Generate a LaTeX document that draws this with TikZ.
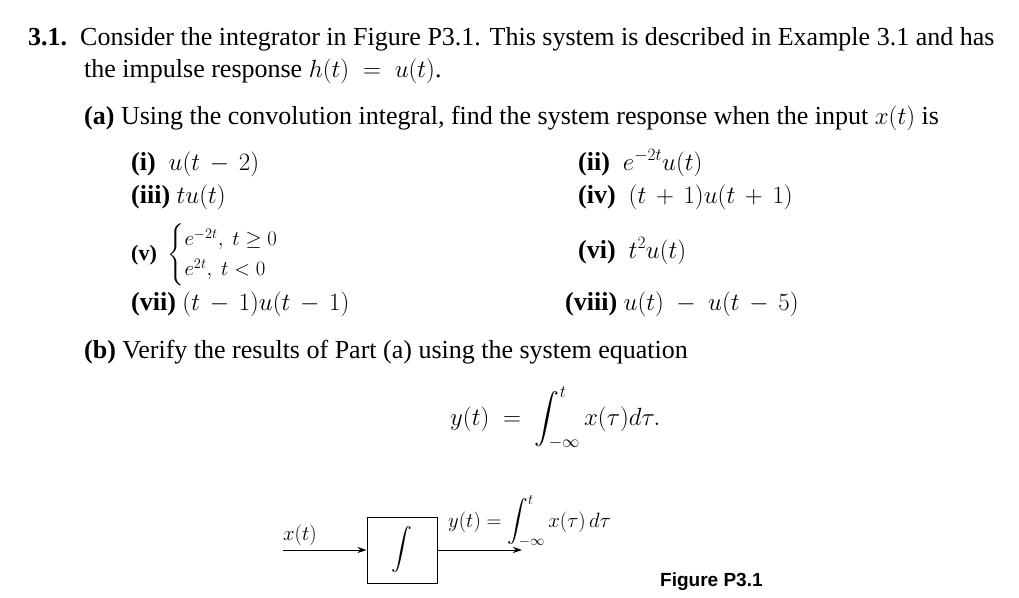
\documentclass[tikz,border=0pt]{standalone}
\usepackage{amsmath}
\usepackage{fontspec}
\setmainfont{Liberation Serif}
\newfontfamily\figfont{Liberation Sans}
\usetikzlibrary{arrows.meta}
\begin{document}
\begin{tikzpicture}[x=1pt,y=-1pt,
  txt/.style={anchor=base west,inner sep=0pt,font=\fontsize{26}{30}\selectfont},
  small/.style={anchor=base west,inner sep=0pt,font=\fontsize{20}{24}\selectfont},
  sig/.style={line width=1pt,-{Stealth[length=9pt,width=6pt]}}]
\useasboundingbox (0,0) rectangle (1019,597);
\node[txt] (h1) at (28,45) {\textbf{3.1.}\ \ Consider the integrator in Figure P3.1. This system is described in Example 3.1 and has};
\node[txt] (h2) at (84,77) {the impulse response $h(t)\;=\;u(t)$.};
\node[txt] (a) at (84,124) {\textbf{(a)}\ Using the convolution integral, find the system response when the input $x(t)$ is};
\node[txt] (i) at (131,170) {\textbf{(i)}\ \ $u(t\,-\,2)$};
\node[txt] (ii) at (578,170) {\textbf{(ii)}\ \ $e^{-2t}u(t)$};
\node[txt] (iii) at (131,203) {\textbf{(iii)}\ $tu(t)$};
\node[txt] (iv) at (578,203) {\textbf{(iv)}\ \ $(t\,+\,1)u(t\,+\,1)$};
\node[txt,font=\fontsize{22}{25}\selectfont] (v) at (131,260) {\textbf{(v)}\ \ $\begin{cases} e^{-2t},\ t\ge 0\\ e^{2t},\ t<0\end{cases}$};
\node[txt] (vi) at (578,258) {\textbf{(vi)}\ \ $t^2u(t)$};
\node[txt] (vii) at (131,310) {\textbf{(vii)}\ $(t\,-\,1)u(t\,-\,1)$};
\node[txt] (viii) at (565,310) {\textbf{(viii)}\ $u(t)\;-\;u(t\,-\,5)$};
\node[txt] (b) at (84,358) {\textbf{(b)}\ Verify the results of Part (a) using the system equation};
\node[txt] (eq) at (450,425) {$y(t)\;=\;\displaystyle\int_{-\infty}^{t} x(\tau)d\tau.$};
\node[draw,line width=1pt,minimum width=70pt,minimum height=66pt,inner sep=0pt,font=\fontsize{22}{26}\selectfont] (box) at (402,550) {$\displaystyle\int$};
\coordinate (in) at (283,550);
\coordinate (out) at (522,550);
\draw[sig] (in) -- (box.west);
\draw[sig] (box.east) -- (out);
\node[small] (xl) at (283,540) {$x(t)$};
\node[small] (yl) at (448,527) {$y(t) = \displaystyle\int_{-\infty}^{t} x(\tau)\,d\tau$};
\node[anchor=base west,inner sep=0pt,font=\figfont\bfseries\fontsize{19}{22}\selectfont] (fig) at (660,586) {Figure P3.1};
\end{tikzpicture}
\end{document}
